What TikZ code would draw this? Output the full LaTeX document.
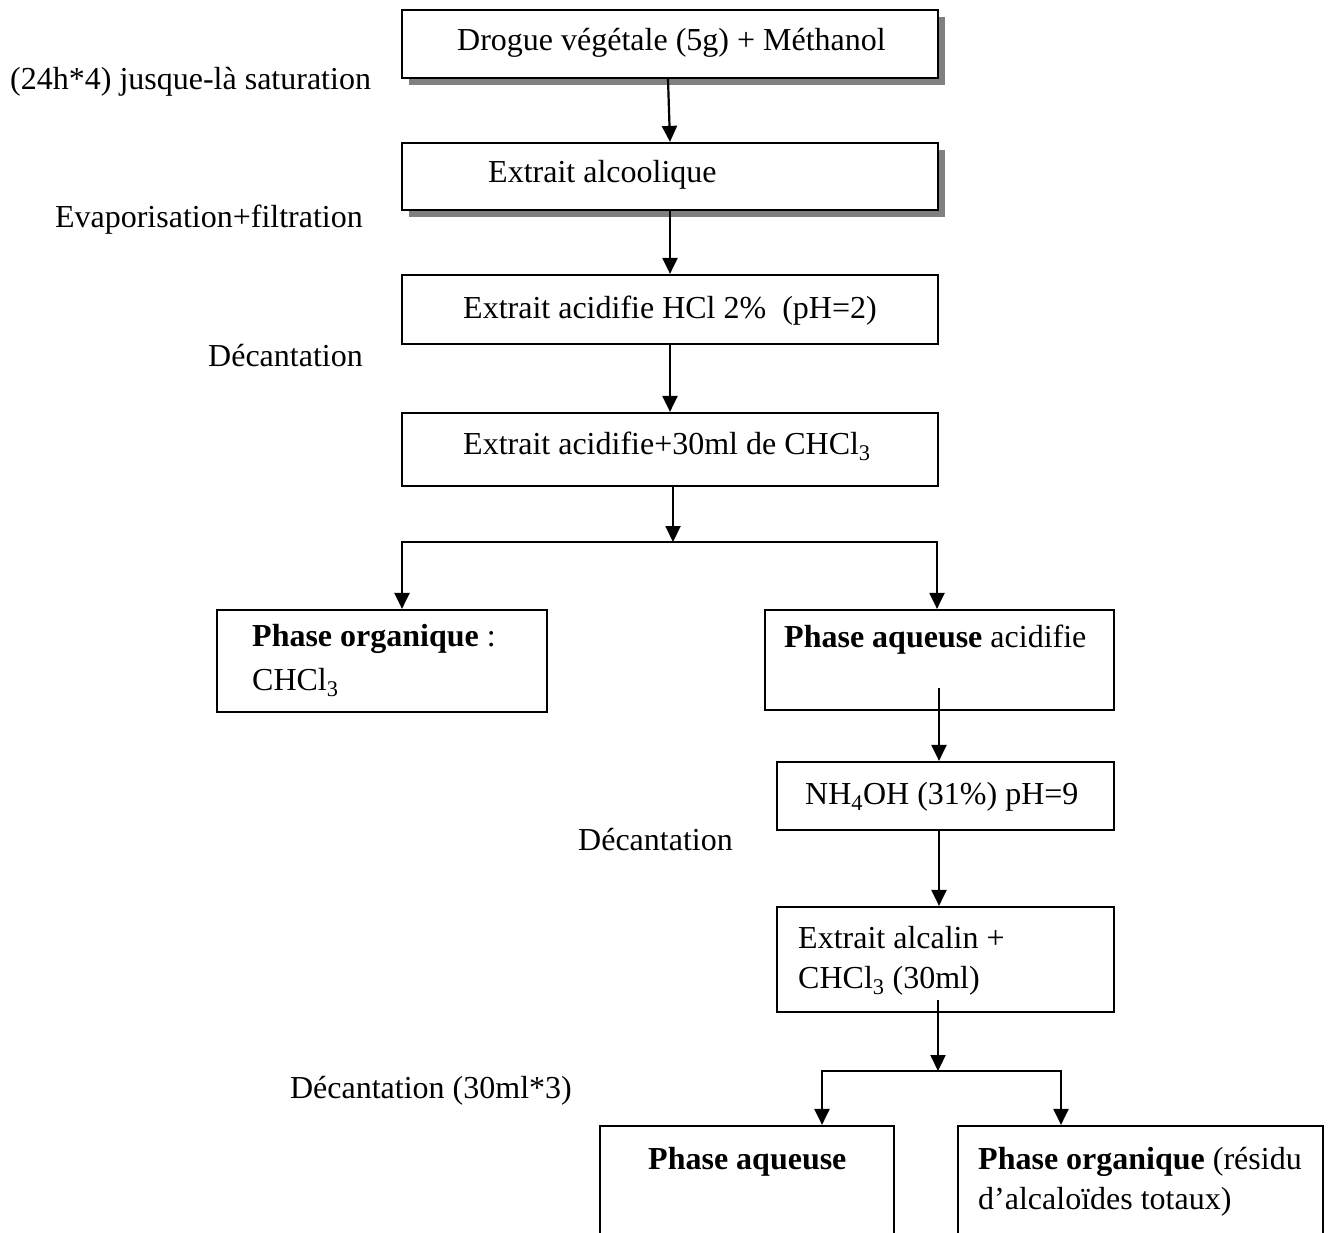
\documentclass[tikz,border=0pt]{standalone}
\usepackage{fontspec}
\setmainfont{Liberation Serif}
\usetikzlibrary{arrows.meta,shadows}

\begin{document}
\begin{tikzpicture}[x=1pt,y=-1pt,
    font=\fontsize{32}{40}\selectfont,
    box/.style={draw,line width=2.2pt,fill=white,inner sep=0pt},
    shadowbox/.style={box,drop shadow={shadow xshift=7pt,shadow yshift=-7pt,fill=black!50,opacity=1}},
    txt/.style={inner sep=0pt,anchor=base west,align=left},
    flow/.style={line width=2.2pt,-{Triangle[length=16pt,width=15pt]}},
    split/.style={line width=2.2pt,{Triangle[length=16pt,width=15pt]}-{Triangle[length=16pt,width=15pt]}}]

    % Frame
    \useasboundingbox (0,0) rectangle (1333,1233);
    \clip (0,0) rectangle (1333,1233);

    % Boxes
    \node[shadowbox,minimum width=536pt,minimum height=68pt] (drogue) at (670,44) {};
    \node[shadowbox,minimum width=536pt,minimum height=67pt] (alcool) at (670,176.5) {};
    \node[box,minimum width=536pt,minimum height=69pt] (acide) at (670,309.5) {};
    \node[box,minimum width=536pt,minimum height=73pt] (chloro) at (670,449.5) {};
    \node[box,minimum width=330pt,minimum height=102pt] (orga) at (382,661) {};
    \node[box,minimum width=349pt,minimum height=100pt] (aqacide) at (939.5,660) {};
    \node[box,minimum width=337pt,minimum height=68pt] (ammo) at (945.5,796) {};
    \node[box,minimum width=337pt,minimum height=105pt] (alcalin) at (945.5,959.5) {};
    \node[box,minimum width=294pt,minimum height=150pt] (aqueuse) at (747,1201) {};
    \node[box,minimum width=365pt,minimum height=150pt] (residu) at (1140.5,1201) {};

    % Texts in the boxes (two-line ones sit on their last line)
    \node[txt] (tdrogue) at (457,51) {Drogue végétale (5g) + Méthanol};
    \node[txt] (talcool) at (488,183) {Extrait alcoolique};
    \node[txt] (tacide) at (463,318) {Extrait acidifie HCl 2\%\ \ (pH=2)};
    \node[txt] (tchloro) at (463,454) {Extrait acidifie+30ml de CHCl\textsubscript{3}};
    \node[txt] (torga) at (252,690) {\textbf{Phase organique} :\\[4pt]CHCl\textsubscript{3}};
    \node[txt] (taqacide) at (784,647) {\textbf{Phase aqueuse} acidifie};
    \node[txt] (tammo) at (805,804) {NH\textsubscript{4}OH (31\%) pH=9};
    \node[txt] (talcalin) at (798,988) {Extrait alcalin +\\CHCl\textsubscript{3} (30ml)};
    \node[txt] (taqueuse) at (648,1169) {\textbf{Phase aqueuse}};
    \node[txt] (tresidu) at (978,1209) {\textbf{Phase organique} (résidu\\d’alcaloïdes totaux)};

    % Steps on the side
    \node[txt] (satur) at (10,90) {(24h*4) jusque-là saturation};
    \node[txt,anchor=base east] (evap) at (363,228) {Evaporisation+filtration};
    \node[txt,anchor=base east] (decant1) at (363,366) {Décantation};
    \node[txt] (decant2) at (578,850) {Décantation};
    \node[txt,anchor=base east] (decant3) at (572,1098) {Décantation (30ml*3)};

    % Main line
    \draw[flow] ([xshift=-2pt]drogue.south) -- (alcool.north);
    \draw[flow] (alcool.south) -- (acide.north);
    \draw[flow] (acide.south) -- (chloro.north);

    % First separation
    \coordinate (s1) at (673,542);
    \coordinate (s1l) at (402,542);
    \coordinate (s1r) at (937,542);
    \draw[flow] ([xshift=3pt]chloro.south) -- (s1);
    \draw[split] (s1l |- orga.north) -- (s1l) -- (s1r) -- (s1r |- aqacide.north);

    % Aqueous branch
    \coordinate (aqout) at (939,688);
    \draw[flow] (aqout) -- (aqout |- ammo.north);
    \draw[flow] (aqout |- ammo.south) -- (aqout |- alcalin.north);

    % Second separation
    \coordinate (alcout) at (938,1000);
    \coordinate (s2) at (938,1071);
    \coordinate (s2l) at (822,1071);
    \coordinate (s2r) at (1061,1071);
    \draw[flow] (alcout) -- (s2);
    \draw[split] (s2l |- aqueuse.north) -- (s2l) -- (s2r) -- (s2r |- residu.north);

\end{tikzpicture}
\end{document}
